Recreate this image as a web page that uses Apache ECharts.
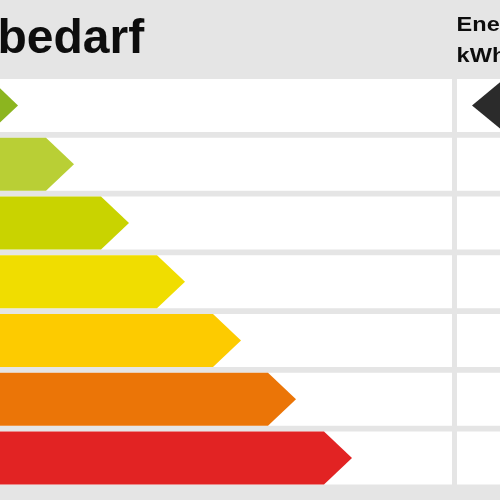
<!DOCTYPE html>
<html>
<head>
<meta charset="utf-8">
<script src="https://cdn.jsdelivr.net/npm/echarts@6/dist/echarts.min.js"></script>
<style>html,body{margin:0;padding:0;background:#e5e5e5}#c{width:500px;height:500px}</style>
</head>
<body>
<div id="c"></div>
<script>
// ---- data ----
const categories = ['A', 'B', 'C', 'D', 'E', 'F', 'G'];
const arrowLengths = [18, 74, 129, 185, 241, 296, 352];
const classColors = ['#8cb51f', '#b9cf35', '#c9d300', '#f0dd00', '#fdcb00', '#eb7507', '#e22323'];
const markerRow = 0;
const markerValue = 472;
const titleText = 'bedarf';
const unitLines = ['Energie', 'kWh/(m²·a)'];

// ---- chart ----
const chart = echarts.init(document.getElementById('c'), null, {renderer: 'canvas'});
const ROW_FRAC = 0.902;
const TIP = 28;

function rowBox(api, idx) {
  const c = api.coord([0, idx]);
  const band = api.size([0, 1])[1];
  const h = band * ROW_FRAC;
  return {x0: c[0], cy: c[1], top: c[1] - h / 2, h: h};
}

chart.setOption({
  backgroundColor: '#e5e5e5',
  animation: false,
  grid: {left: 0, right: 0, top: 76, bottom: 12.5},
  xAxis: {type: 'value', min: 0, max: 500, show: false},
  yAxis: {type: 'category', data: categories, inverse: true, show: false},
  graphic: [
    {type: 'text', x: -2.5, y: 15.4, style: {text: titleText, font: 'bold 48px "Liberation Sans", Arial, sans-serif', fill: '#0d0d0d'}},
    {type: 'text', x: 456.6, y: 14.5, scaleX: 1.12, style: {text: unitLines[0], font: 'bold 21px "Liberation Sans", Arial, sans-serif', fill: '#0d0d0d'}},
    {type: 'text', x: 456.6, y: 45.5, scaleX: 1.12, style: {text: unitLines[1], font: 'bold 21px "Liberation Sans", Arial, sans-serif', fill: '#0d0d0d'}}
  ],
  series: [
    {
      type: 'custom',
      silent: true,
      data: categories.map((c, i) => [0, i]),
      encode: {x: 0, y: 1},
      renderItem: function (params, api) {
        const b = rowBox(api, api.value(1));
        const xMid = api.coord([452, 0])[0];
        const xR = api.coord([457, 0])[0];
        const xEnd = api.coord([500, 0])[0];
        return {type: 'group', children: [
          {type: 'rect', shape: {x: b.x0, y: b.top, width: xMid - b.x0, height: b.h}, style: {fill: '#ffffff'}},
          {type: 'rect', shape: {x: xR, y: b.top, width: xEnd - xR + 5, height: b.h}, style: {fill: '#ffffff'}}
        ]};
      }
    },
    {
      type: 'custom',
      silent: true,
      data: arrowLengths.map((v, i) => [v, i]),
      encode: {x: 0, y: 1},
      renderItem: function (params, api) {
        const idx = api.value(1);
        const b = rowBox(api, idx);
        const tip = api.coord([api.value(0), idx])[0];
        const start = b.x0 - 40;
        return {
          type: 'polygon',
          shape: {points: [[start, b.top], [tip - TIP, b.top], [tip, b.cy], [tip - TIP, b.top + b.h], [start, b.top + b.h]]},
          style: {fill: classColors[idx], lineJoin: 'round'}
        };
      }
    },
    {
      type: 'custom',
      silent: true,
      data: [[markerValue, markerRow]],
      encode: {x: 0, y: 1},
      renderItem: function (params, api) {
        const idx = api.value(1);
        const b = rowBox(api, idx);
        const tip = api.coord([api.value(0), idx])[0];
        return {
          type: 'polygon',
          shape: {points: [[tip, b.cy], [tip + 32, b.top], [tip + 80, b.top], [tip + 80, b.top + b.h], [tip + 32, b.top + b.h]]},
          style: {fill: '#2b2b2b'}
        };
      }
    }
  ]
});
</script>
</body>
</html>
